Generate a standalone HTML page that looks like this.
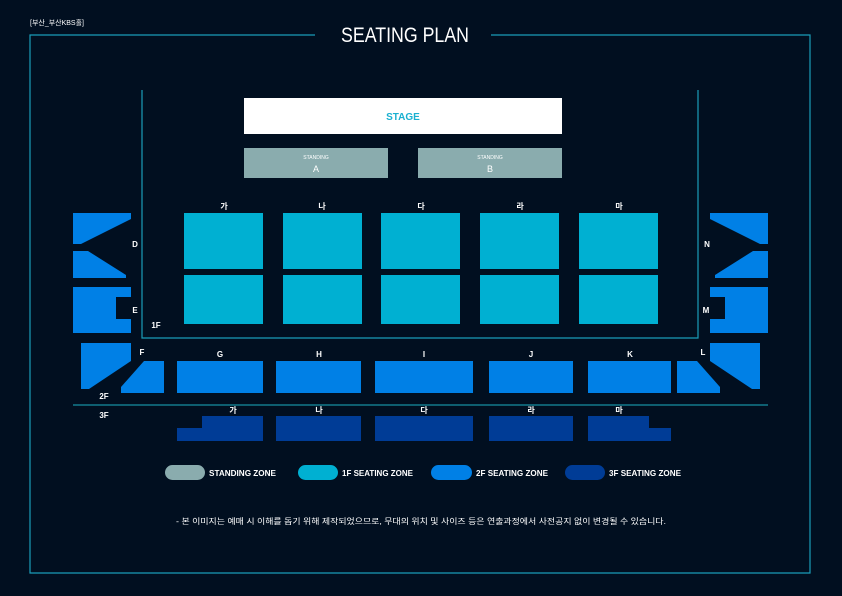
<!DOCTYPE html>
<html><head><meta charset="utf-8"><style>
html,body{margin:0;padding:0;background:#010f20;}
svg{display:block;}
text{font-family:"Liberation Sans","Noto Sans CJK KR",sans-serif;fill:#fff;}
</style></head><body>
<svg width="842" height="596" viewBox="0 0 842 596" xmlns="http://www.w3.org/2000/svg">
<rect width="842" height="596" fill="#010f20"/>
<text x="30" y="25" font-size="7">[부산_부산KBS홀]</text>
<path d="M315 35 H30 V573 H810 V35 H491" fill="none" stroke="#1a9cb8" stroke-width="1.2"/>
<text x="405" y="42" font-size="21" text-anchor="middle" textLength="128" lengthAdjust="spacingAndGlyphs">SEATING PLAN</text>
<path d="M142 90 V338 H698 V90" fill="none" stroke="#1a9cb8" stroke-width="1.2"/>
<rect x="244" y="98" width="318" height="36" fill="#fff"/>
<text x="403" y="120" font-size="10" font-weight="bold" text-anchor="middle" style="fill:#1ab0d0">STAGE</text>
<rect x="244" y="148" width="144" height="30" fill="#8aacae"/>
<rect x="418" y="148" width="144" height="30" fill="#8aacae"/>
<text x="316" y="159" font-size="5" text-anchor="middle">STANDING</text>
<text x="316" y="172" font-size="9" text-anchor="middle">A</text>
<text x="490" y="159" font-size="5" text-anchor="middle">STANDING</text>
<text x="490" y="172" font-size="9" text-anchor="middle">B</text>
<g fill="#00b0d2">
<rect x="184" y="213" width="79" height="56"/><rect x="283" y="213" width="79" height="56"/><rect x="381" y="213" width="79" height="56"/><rect x="480" y="213" width="79" height="56"/><rect x="579" y="213" width="79" height="56"/>
<rect x="184" y="275" width="79" height="49"/><rect x="283" y="275" width="79" height="49"/><rect x="381" y="275" width="79" height="49"/><rect x="480" y="275" width="79" height="49"/><rect x="579" y="275" width="79" height="49"/>
</g>
<g font-size="8" font-weight="bold" text-anchor="middle">
<text x="224" y="209">가</text><text x="322" y="209">나</text><text x="421" y="209">다</text><text x="520" y="209">라</text><text x="619" y="209">마</text>
<text x="220" y="357">G</text><text x="319" y="357">H</text><text x="424" y="357">I</text><text x="531" y="357">J</text><text x="630" y="357">K</text>
<text x="233" y="413">가</text><text x="319" y="413">나</text><text x="424" y="413">다</text><text x="531" y="413">라</text><text x="619" y="413">마</text>
<text x="135" y="247">D</text><text x="135" y="313">E</text><text x="142" y="355">F</text><text x="156" y="328">1F</text><text x="104" y="399">2F</text><text x="104" y="418">3F</text>
<text x="707" y="247">N</text><text x="706" y="313">M</text><text x="703" y="355">L</text>
</g>
<g fill="#0080e6">
<polygon points="73,213 131,213 131,219 81,244 73,244"/>
<polygon points="73,251 88,251 126,275 126,278 73,278"/>
<polygon points="73,287 131,287 131,297 116,297 116,319 131,319 131,333 73,333"/>
<polygon points="81,343 131,343 131,361 89,389 81,389"/>
<polygon points="144,361 164,361 164,393 121,393 121,387"/>
</g>
<g fill="#0080e6" transform="translate(841,0) scale(-1,1)">
<polygon points="73,213 131,213 131,219 81,244 73,244"/>
<polygon points="73,251 88,251 126,275 126,278 73,278"/>
<polygon points="73,287 131,287 131,297 116,297 116,319 131,319 131,333 73,333"/>
<polygon points="81,343 131,343 131,361 89,389 81,389"/>
<polygon points="144,361 164,361 164,393 121,393 121,387"/>
</g>
<g fill="#0080e6">
<rect x="177" y="361" width="86" height="32"/><rect x="276" y="361" width="85" height="32"/><rect x="375" y="361" width="98" height="32"/><rect x="489" y="361" width="84" height="32"/><rect x="588" y="361" width="83" height="32"/>
</g>
<line x1="73" y1="405" x2="768" y2="405" stroke="#137a8c" stroke-width="1.5"/>
<g fill="#003c96">
<polygon points="202,416 263,416 263,441 177,441 177,428 202,428"/>
<rect x="276" y="416" width="85" height="25"/><rect x="375" y="416" width="98" height="25"/><rect x="489" y="416" width="84" height="25"/>
<polygon points="588,416 649,416 649,428 671,428 671,441 588,441"/>
</g>
<rect x="165" y="465" width="40" height="15" rx="7.5" fill="#8aacae"/>
<rect x="298" y="465" width="40" height="15" rx="7.5" fill="#00b0d2"/>
<rect x="431" y="465" width="41" height="15" rx="7.5" fill="#0080e6"/>
<rect x="565" y="465" width="40" height="15" rx="7.5" fill="#003c96"/>
<g font-size="8.5" font-weight="bold">
<text x="209" y="476" textLength="67" lengthAdjust="spacingAndGlyphs">STANDING ZONE</text>
<text x="342" y="476" textLength="71" lengthAdjust="spacingAndGlyphs">1F SEATING ZONE</text>
<text x="476" y="476" textLength="72" lengthAdjust="spacingAndGlyphs">2F SEATING ZONE</text>
<text x="609" y="476" textLength="72" lengthAdjust="spacingAndGlyphs">3F SEATING ZONE</text>
</g>
<text x="421" y="524" font-size="8" text-anchor="middle" textLength="490" lengthAdjust="spacingAndGlyphs">- 본 이미지는 예매 시 이해를 돕기 위해 제작되었으므로, 무대의 위치 및 사이즈 등은 연출과정에서 사전공지 없이 변경될 수 있습니다.</text>
</svg>
</body></html>
